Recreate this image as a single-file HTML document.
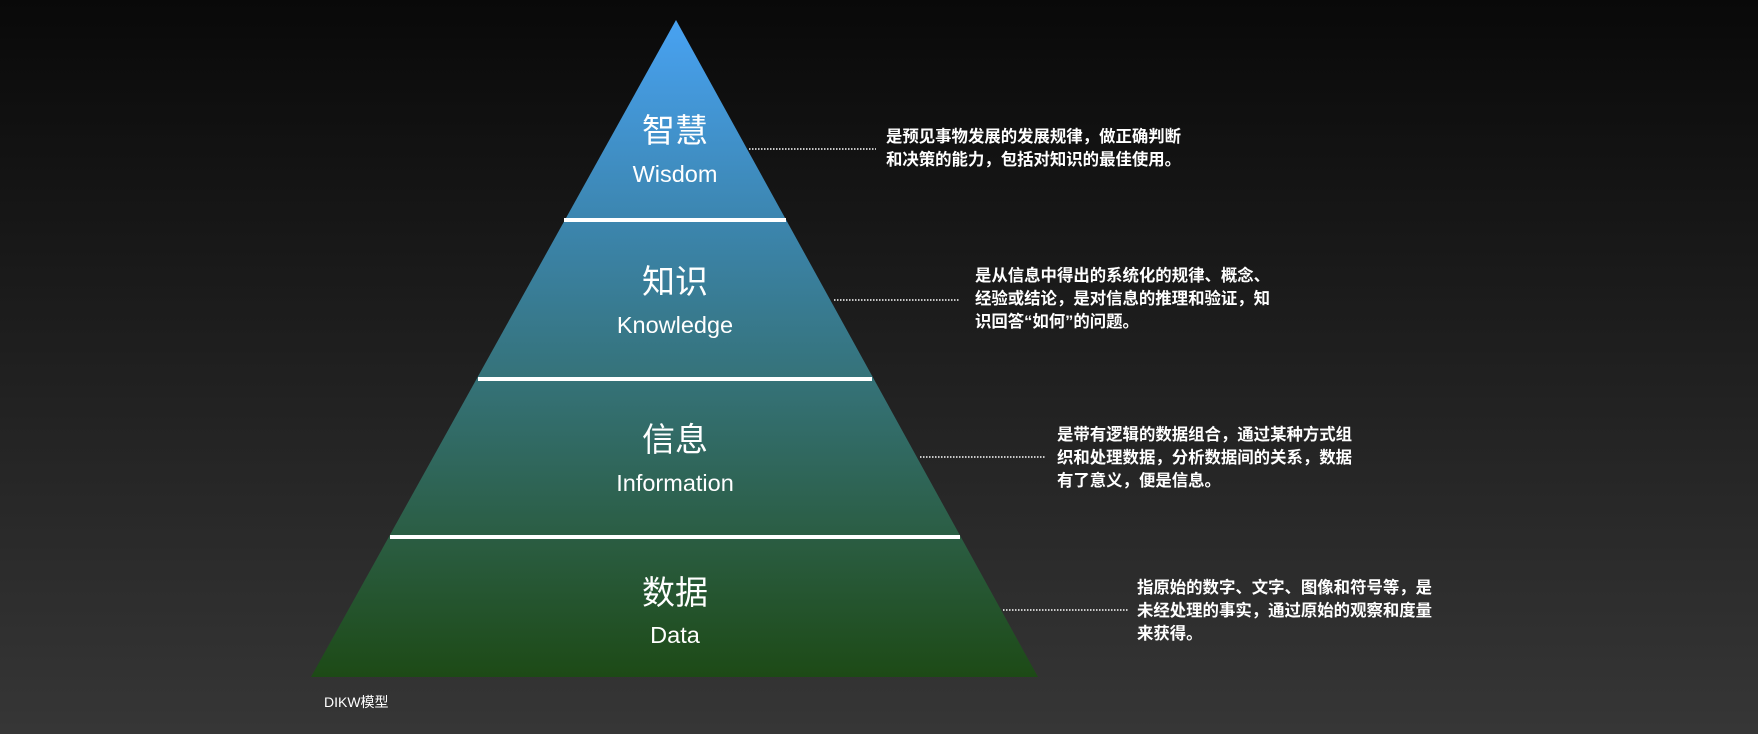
<!DOCTYPE html>
<html><head><meta charset="utf-8"><style>
html,body{margin:0;padding:0}
body{width:1758px;height:734px;overflow:hidden;background:linear-gradient(#090909,#363636);font-family:"Liberation Sans","Noto Sans CJK SC",sans-serif;position:relative}
.d{position:absolute;color:#fff;font-size:16.4px;line-height:23px;font-weight:bold;white-space:nowrap}
</style></head><body>
<svg width="1758" height="734" style="position:absolute;left:0;top:0">
<defs><linearGradient id="g" x1="0" y1="20" x2="0" y2="677" gradientUnits="userSpaceOnUse">
<stop offset="0" stop-color="#48a2f2"/>
<stop offset="0.3" stop-color="#3c86b0"/>
<stop offset="0.55" stop-color="#357278"/>
<stop offset="0.8" stop-color="#2a5c40"/>
<stop offset="1" stop-color="#1d4a16"/>
</linearGradient></defs>
<polygon points="676,20 1038,677 311,677" fill="url(#g)"/>
<g stroke="#fff" stroke-width="4">
<line x1="564" y1="220" x2="786" y2="220"/>
<line x1="478" y1="379" x2="872" y2="379"/>
<line x1="390" y1="537" x2="960" y2="537"/>
</g>
<g stroke="#fff" stroke-width="1.5" stroke-dasharray="1.5 1.5">
<line x1="749" y1="149" x2="876" y2="149"/>
<line x1="834" y1="300" x2="960" y2="300"/>
<line x1="920" y1="457" x2="1046" y2="457"/>
<line x1="1003" y1="610" x2="1128" y2="610"/>
</g>
<g fill="#fff" text-anchor="middle" font-family="Liberation Sans, Noto Sans CJK SC, sans-serif">
<text x="675" y="142" font-size="33">智慧</text>
<text x="675" y="182" font-size="23.5">Wisdom</text>
<text x="675" y="293" font-size="33">知识</text>
<text x="675" y="333" font-size="23.5">Knowledge</text>
<text x="675" y="451" font-size="33">信息</text>
<text x="675" y="491" font-size="23.5">Information</text>
<text x="675" y="604" font-size="33">数据</text>
<text x="675" y="643" font-size="23.5">Data</text>
</g>
<text x="324" y="707" fill="#fff" font-size="14" font-family="Liberation Sans, Noto Sans CJK SC, sans-serif">DIKW模型</text>
</svg>
<div class="d" style="left:886px;top:126px">是预见事物发展的发展规律，做正确判断<br>和决策的能力，包括对知识的最佳使用。</div>
<div class="d" style="left:975px;top:265px">是从信息中得出的系统化的规律、概念、<br>经验或结论，是对信息的推理和验证，知<br>识回答“如何”的问题。</div>
<div class="d" style="left:1057px;top:424px">是带有逻辑的数据组合，通过某种方式组<br>织和处理数据，分析数据间的关系，数据<br>有了意义，便是信息。</div>
<div class="d" style="left:1137px;top:577px">指原始的数字、文字、图像和符号等，是<br>未经处理的事实，通过原始的观察和度量<br>来获得。</div>
</body></html>
